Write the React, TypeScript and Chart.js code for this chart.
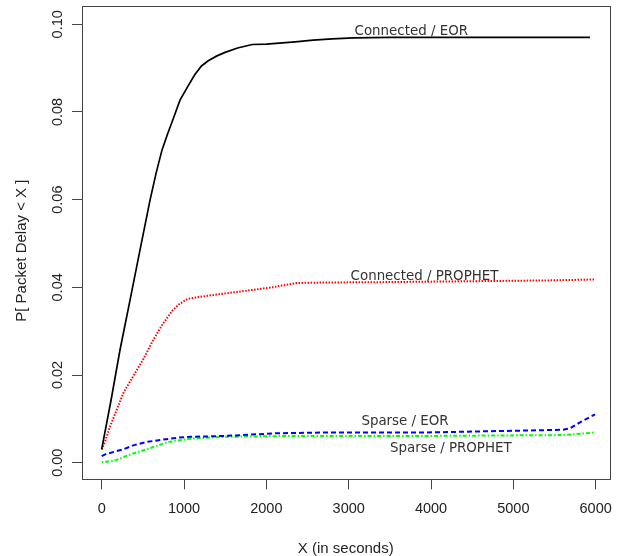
import React, { useEffect, useRef } from "react";
import { Chart, registerables } from "chart.js";

Chart.register(...registerables);

// ---- data ----
const X_TICKS = [0, 1000, 2000, 3000, 4000, 5000, 6000];
const Y_TICKS = [0, 0.02, 0.04, 0.06, 0.08, 0.1];

const connEorX = [0, 114, 222, 344, 465, 587, 660, 732, 800, 870, 951, 1048, 1130, 1212, 1294, 1400, 1499, 1650, 1828, 2000, 2156, 2350, 2567, 2800, 3058, 3500, 4000, 4500, 5000, 5500, 5930];
const connEorY = [0.0031, 0.0143, 0.0257, 0.0371, 0.0485, 0.0599, 0.066, 0.0713, 0.075, 0.0785, 0.0827, 0.0859, 0.0885, 0.0905, 0.0917, 0.0928, 0.0936, 0.0946, 0.0954, 0.0955, 0.0957, 0.096, 0.0964, 0.0967, 0.0969, 0.097, 0.097, 0.097, 0.097, 0.097, 0.097];

const connProX = [0, 40, 104, 268, 391, 514, 617, 740, 863, 945, 1048, 1294, 1704, 2073, 2368, 2730, 3500, 4500, 5500, 6000];
const connProY = [0.003, 0.0048, 0.0084, 0.0161, 0.02, 0.0239, 0.0277, 0.0316, 0.0348, 0.0362, 0.0374, 0.0381, 0.0391, 0.04, 0.041, 0.0411, 0.0412, 0.0414, 0.0416, 0.0418];

const sparseEorX = [0, 43, 268, 391, 535, 720, 925, 1089, 1499, 2115, 2730, 3961, 5603, 5685, 5808, 5992];
const sparseEorY = [0.0015, 0.0019, 0.0031, 0.004, 0.0047, 0.0052, 0.0057, 0.0059, 0.0061, 0.0067, 0.0069, 0.0069, 0.0075, 0.0078, 0.0092, 0.011];

const sparseProX = [0, 145, 350, 555, 802, 1089, 1499, 2320, 3961, 5603, 6000];
const sparseProY = [0.0001, 0.0004, 0.0019, 0.0031, 0.0047, 0.0055, 0.0059, 0.0061, 0.0061, 0.0063, 0.0069];

const LABELS = ["Connected / EOR", "Connected / PROPHET", "Sparse / EOR", "Sparse / PROPHET"];
const LABEL_X = [3760, 3921, 3684, 4240];
const LABEL_Y = [0.0976, 0.0416, 0.0085, 0.0025];

const X_TITLE = "X (in seconds)";
const Y_TITLE = "P[ Packet Delay < X ]";

const pts = (xs: number[], ys: number[]) => xs.map((x, i) => ({ x, y: ys[i] }));

const AXIS_FONT = '"Liberation Sans", Arial, Helvetica, sans-serif';

const rPlugin = {
  id: "rstyle",
  afterDraw(chart: any) {
    const { ctx, chartArea: a, scales } = chart;
    ctx.save();
    // box
    ctx.strokeStyle = "#444";
    ctx.lineWidth = 1;
    const l = Math.round(a.left), t = Math.round(a.top), r = Math.round(a.right), b = Math.round(a.bottom);
    ctx.strokeRect(l + 0.5, t + 0.5, r - l, b - t);

    // y tick labels (rotated, R style)
    ctx.fillStyle = "#222";
    ctx.font = `14.5px ${AXIS_FONT}`;
    const ys = scales.y;
    for (const v of Y_TICKS) {
      const py = ys.getPixelForValue(v);
      ctx.save();
      ctx.translate(a.left - 20.3, py);
      ctx.rotate(-Math.PI / 2);
      ctx.textAlign = "center";
      ctx.textBaseline = "alphabetic";
      ctx.fillText(v.toFixed(2), 0, 0);
      ctx.restore();
    }

    // axis titles
    ctx.font = `15px ${AXIS_FONT}`;
    ctx.textAlign = "center";
    ctx.textBaseline = "alphabetic";
    ctx.fillText(X_TITLE, (a.left + a.right) / 2, a.bottom + 74);
    ctx.save();
    ctx.translate(a.left - 56, (a.top + a.bottom) / 2 + 8);
    ctx.rotate(-Math.PI / 2);
    ctx.fillText(Y_TITLE, 0, 0);
    ctx.restore();

    // in-plot labels
    ctx.fillStyle = "#333";
    ctx.font = '13.4px "DejaVu Sans", sans-serif';
    const xs = scales.x;
    LABELS.forEach((txt, i) => {
      ctx.fillText(txt, xs.getPixelForValue(LABEL_X[i]), ys.getPixelForValue(LABEL_Y[i]));
    });
    ctx.restore();
  },
};

export default function App() {
  const ref = useRef<HTMLCanvasElement | null>(null);
  useEffect(() => {
    if (!ref.current) return;
    const chart = new Chart(ref.current, {
      type: "line",
      data: {
        datasets: [
          { label: LABELS[0], data: pts(connEorX, connEorY), borderColor: "#000000", borderWidth: 1.7, pointRadius: 0, tension: 0, fill: false },
          { label: LABELS[1], data: pts(connProX, connProY), borderColor: "#ff0000", borderWidth: 2, borderDash: [1.5, 1.5], pointRadius: 0, tension: 0, fill: false },
          { label: LABELS[2], data: pts(sparseEorX, sparseEorY), borderColor: "#0000ff", borderWidth: 2, borderDash: [5, 3], pointRadius: 0, tension: 0, fill: false },
          { label: LABELS[3], data: pts(sparseProX, sparseProY), borderColor: "#00ff00", borderWidth: 2, borderDash: [1.5, 2, 4, 2], pointRadius: 0, tension: 0, fill: false },
        ],
      },
      options: {
        animation: false,
        responsive: false,
        maintainAspectRatio: false,
        layout: { padding: { top: 6, right: 9.5, bottom: 0, left: 0 } },
        plugins: { legend: { display: false }, tooltip: { enabled: false }, title: { display: false } },
        scales: {
          x: {
            type: "linear",
            min: -239.3,
            max: 6167.8,
            afterBuildTicks: (s: any) => { s.ticks = X_TICKS.map((v) => ({ value: v })); },
            afterFit: (s: any) => { s.height = 76.7; s.paddingLeft = 0; s.paddingRight = 0; },
            grid: { display: true, drawOnChartArea: false, drawTicks: true, tickLength: 10, color: "#444", lineWidth: 1 },
            border: { display: false },
            ticks: {
              autoSkip: false, maxRotation: 0, minRotation: 0, padding: 11, color: "#222",
              font: { family: AXIS_FONT, size: 14.5 },
              callback: (v: any) => String(v),
            },
          },
          y: {
            type: "linear",
            min: -0.00379,
            max: 0.10418,
            afterBuildTicks: (s: any) => { s.ticks = Y_TICKS.map((v) => ({ value: v })); },
            afterFit: (s: any) => { s.width = 82; s.paddingTop = 0; s.paddingBottom = 0; },
            grid: { display: true, drawOnChartArea: false, drawTicks: true, tickLength: 10, color: "#444", lineWidth: 1 },
            border: { display: false },
            ticks: { display: false },
          },
        },
      },
      plugins: [rPlugin],
    });
    return () => chart.destroy();
  }, []);
  return (
    <div style={{ position: "absolute", left: 0, top: 0, width: 619, height: 556, background: "#fff" }}>
      <canvas ref={ref} width={619} height={556} style={{ display: "block" }} />
    </div>
  );
}
